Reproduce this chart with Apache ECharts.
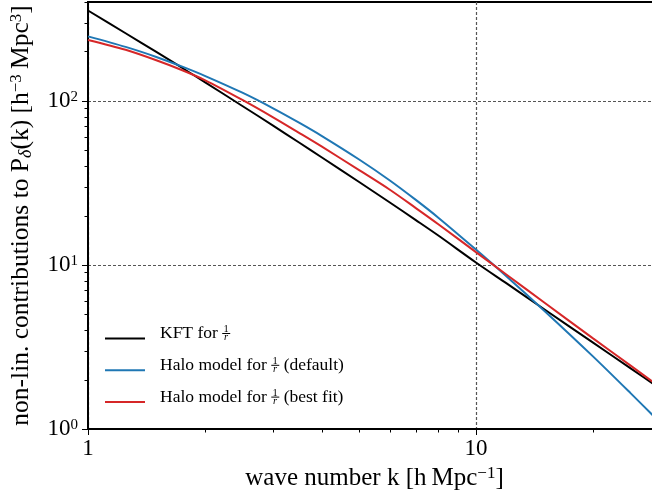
<!DOCTYPE html>
<html>
<head>
<meta charset="utf-8">
<script src="https://cdn.jsdelivr.net/npm/echarts@6/dist/echarts.min.js"></script>
<style>
  html, body { margin: 0; padding: 0; background: #fff; }
  #chart { width: 652px; height: 500px; }
</style>
</head>
<body>
<div id="chart"></div>
<script>
// Wave numbers k [h/Mpc] and the non-linear contributions to P_delta(k)
const waveNumbers       = [1, 1.25, 1.5, 1.75, 2, 2.5, 3, 3.5, 4, 5, 6, 7, 8, 10, 12, 15, 20, 25, 30];
const kftValues         = [355, 258, 198.5, 158.5, 130, 93.0, 70.6, 55.7, 45.3, 32.0, 24.0, 18.75, 15.1, 10.35, 7.71, 5.37, 3.37, 2.35, 1.75];
const haloDefaultValues = [247, 213, 185, 161.5, 142, 112, 90, 73.6, 61.2, 43.9, 32.7, 24.9, 19.4, 12.4, 8.5, 5.26, 2.78, 1.66, 1.08];
const haloBestFitValues = [235, 204.6, 176.6, 153.5, 133.7, 101.2, 79.3, 63.8, 52.7, 37.8, 28.7, 22.2, 17.7, 11.97, 8.71, 5.9, 3.58, 2.44, 1.78];

const seriesNames  = ['KFT for 1/r', 'Halo model for 1/r (default)', 'Halo model for 1/r (best fit)'];
const legendParts  = [['KFT for ', ''], ['Halo model for ', ' (default)'], ['Halo model for ', ' (best fit)']];
const seriesColors = ['#000000', '#1f77b4', '#d62728'];

// Axis ticks
const xMajorTicks = [1, 10];
const xTickLabels = ['1', '10'];
const xMinorTicks = [2, 3, 4, 5, 6, 7, 8, 9, 20, 30];
const yMajorTicks = [1, 10, 100];
const yTickExponents = ['0', '1', '2'];
const yMinorTicks = [2, 3, 4, 5, 6, 7, 8, 9, 20, 30, 40, 50, 60, 70, 80, 90, 200, 300, 400];

const FONT = "'Liberation Serif', 'Times New Roman', serif";
const LEGEND_SIZE = 17.5;

function textWidth(text, size) {
  const ctx = document.createElement('canvas').getContext('2d');
  ctx.font = size + 'px ' + FONT;
  return ctx.measureText(text).width;
}

function sameValue(a, b) { return Math.abs(a - b) < 1e-6 * Math.max(1, b); }

// Stacked 1/r fraction inside the legend labels
const legendRich = {
  gap:  { width: 10, lineHeight: 1, fontSize: 10, fontFamily: FONT },
  main: { fontSize: LEGEND_SIZE, fontFamily: FONT, color: '#000', lineHeight: 1, verticalAlign: 'middle' },
  bar:  { width: 8, height: 1, lineHeight: 1, backgroundColor: '#000', verticalAlign: 'middle' },
  num:  { fontSize: 10.5, fontFamily: FONT, color: '#000', lineHeight: 7, padding: [0, 0, 0, 1.3] },
  den:  { fontSize: 10.5, fontFamily: FONT, color: '#000', lineHeight: 7, padding: [0, 0, 0, 1.8], fontStyle: 'italic' },
  pad:  { fontSize: 10, fontFamily: FONT, lineHeight: 10, width: 1 }
};
legendParts.forEach(function (p, i) {
  legendRich['sp' + i] = { width: textWidth(p[0], LEGEND_SIZE), lineHeight: 1, fontSize: 10, fontFamily: FONT };
});

function legendLabel(name) {
  const i = seriesNames.indexOf(name);
  const pre = legendParts[i][0], post = legendParts[i][1];
  return '{gap|}{sp' + i + '|}{num|1}\n' +
         '{gap|}{main|' + pre + '}{bar|}' + (post ? '{main|' + post + '}' : '') + '\n' +
         '{gap|}{sp' + i + '|}{den|r}\n{pad|}';
}

function minorTick(dim, len) {
  return function (params, api) {
    const p = api.coord([api.value(0), api.value(1)]);
    const x = Math.round(p[0]) + 0.5, y = Math.round(p[1]) + 0.5;
    const shape = dim === 'x'
      ? { x1: x, y1: p[1], x2: x, y2: p[1] + len }
      : { x1: p[0] - len, y1: y, x2: p[0], y2: y };
    return { type: 'line', shape: shape, style: { stroke: '#000', lineWidth: 1 } };
  };
}

const supStyle = { fontSize: 17, fontFamily: FONT, color: '#000', verticalAlign: 'top', lineHeight: 16 };
const subStyle = { fontSize: 18, fontFamily: FONT, color: '#000', verticalAlign: 'bottom', lineHeight: 12, fontStyle: 'italic' };

const chart = echarts.init(document.getElementById('chart'), null, { renderer: 'canvas' });

chart.setOption({
  animation: false,
  backgroundColor: '#fff',
  textStyle: { fontFamily: FONT, color: '#000' },
  grid: {
    left: 88, top: 2, right: -9, bottom: 71,
    show: true, borderColor: '#000', borderWidth: 2, backgroundColor: 'transparent',
    containLabel: false, outerBoundsMode: 'none'
  },
  legend: {
    orient: 'vertical', left: 105, top: 324, padding: 0, itemGap: 4.8,
    itemWidth: 40, itemHeight: 2, icon: 'rect',
    selectedMode: false,
    data: seriesNames,
    formatter: legendLabel,
    textStyle: { fontFamily: FONT, fontSize: LEGEND_SIZE, color: '#000', rich: legendRich }
  },
  xAxis: {
    type: 'log', logBase: 10, min: 1, max: 30,
    axisLine: { show: true, lineStyle: { color: '#000', width: 2 } },
    axisTick: { show: true, inside: false, length: 6, lineStyle: { color: '#000', width: 1 }, customValues: xMajorTicks },
    axisLabel: {
      customValues: xMajorTicks, margin: 8, color: '#000', fontSize: 23, fontFamily: FONT,
      formatter: function (v) {
        for (let i = 0; i < xMajorTicks.length; i++) if (sameValue(v, xMajorTicks[i])) return xTickLabels[i];
        return '';
      }
    },
    splitLine: { show: true, lineStyle: { color: '#555', type: [3, 2], width: 1.2 } },
    name: 'wave number k [h\u2009Mpc{sup|\u22121}]',
    nameLocation: 'middle', nameGap: 33,
    nameTextStyle: { fontSize: 25, fontFamily: FONT, color: '#000', lineHeight: 27, rich: { sup: supStyle } }
  },
  yAxis: {
    type: 'log', logBase: 10, min: 1, max: 400,
    axisLine: { show: true, lineStyle: { color: '#000', width: 2 } },
    axisTick: { show: true, inside: false, length: 6, lineStyle: { color: '#000', width: 1 }, customValues: yMajorTicks },
    axisLabel: {
      customValues: yMajorTicks, margin: 10, color: '#000', fontSize: 23, fontFamily: FONT,
      formatter: function (v) {
        for (let i = 0; i < yMajorTicks.length; i++) if (sameValue(v, yMajorTicks[i])) return '10{sup|' + yTickExponents[i] + '}';
        return '';
      },
      rich: { sup: { fontSize: 15, fontFamily: FONT, color: '#000', verticalAlign: 'top', lineHeight: 16 } }
    },
    splitLine: { show: true, lineStyle: { color: '#555', type: [3, 2], width: 1.2 } },
    name: 'non-lin. contributions to P{sub|\u03b4}(k) [h{sup|\u22123}\u2009Mpc{sup|3}]',
    nameLocation: 'middle', nameGap: 53, nameRotate: 90,
    nameTextStyle: { fontSize: 25.5, fontFamily: FONT, color: '#000', lineHeight: 27, rich: { sup: supStyle, sub: subStyle } }
  },
  series: [
    { name: seriesNames[0], data: waveNumbers.map((k, i) => [k, kftValues[i]]) },
    { name: seriesNames[1], data: waveNumbers.map((k, i) => [k, haloDefaultValues[i]]) },
    { name: seriesNames[2], data: waveNumbers.map((k, i) => [k, haloBestFitValues[i]]) }
  ].map(function (s, i) {
    return Object.assign({
      type: 'line', showSymbol: false, symbol: 'none', smooth: 0.3,
      color: seriesColors[i], lineStyle: { color: seriesColors[i], width: 2 }, z: 3 + i
    }, s);
  }).concat([
    { type: 'custom', name: 'x minor ticks', silent: true, clip: false, z: 10,
      data: xMinorTicks.map(k => [k, 1]), renderItem: minorTick('x', 3.5) },
    { type: 'custom', name: 'y minor ticks', silent: true, clip: false, z: 10,
      data: yMinorTicks.map(v => [1, v]), renderItem: minorTick('y', 3.5) }
  ])
});
</script>
</body>
</html>
